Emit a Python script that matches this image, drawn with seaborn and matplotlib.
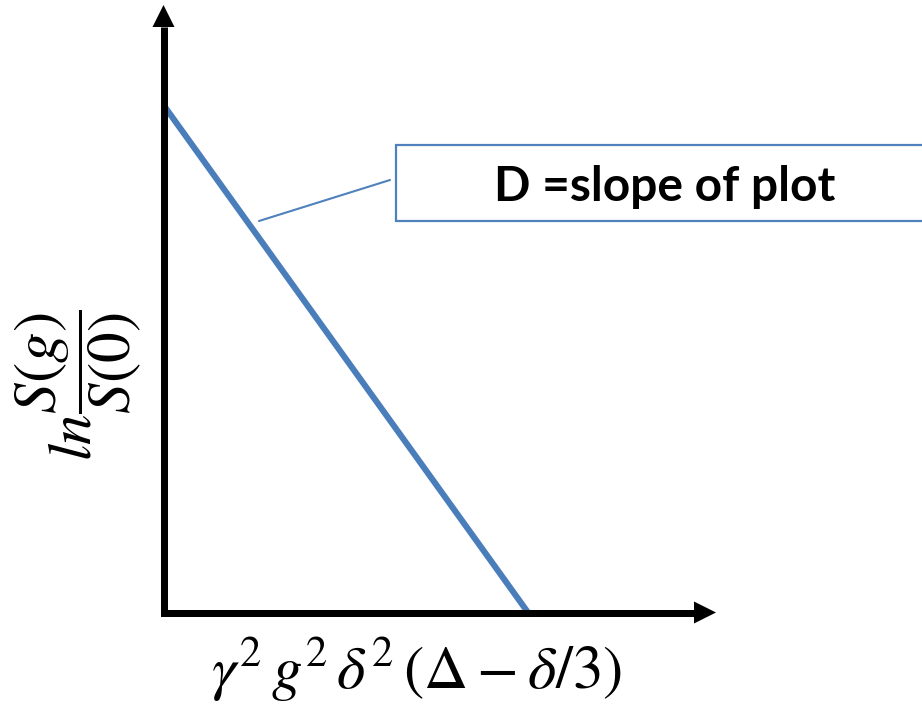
import matplotlib
matplotlib.use("Agg")
import matplotlib.pyplot as plt
import seaborn as sns
import pandas as pd
from matplotlib.patches import Rectangle, Polygon
from matplotlib.lines import Line2D

# Diffusion-weighting factor and log signal attenuation (arbitrary units)
b_factor = [0.0, 1.0]
log_attenuation = [1.0, 0.0]

callout_text = "D =slope of plot"
x_label = r"$\gamma^2\, g^2\, \delta^2\,(\Delta - \delta/3)$"
y_label = r"$ln\dfrac{S(g)}{S(0)}$"

W, H, DPI = 922, 704, 100
sns.set_theme(style="white")
plt.rcParams["mathtext.fontset"] = "stix"
plt.rcParams["font.family"] = ["Lato", "DejaVu Sans"]

fig = plt.figure(figsize=(W / DPI, H / DPI), dpi=DPI)
fig.patch.set_facecolor("white")

# axes origin and arrow tips in pixels
ox, oy = 163.5, 612.5
x_tip, y_tip = 716.0, 5.0
ax_w, ax_h = x_tip - ox, oy - y_tip
ax = fig.add_axes([ox / W, (H - oy) / H, ax_w / W, ax_h / H])
ax.set_xlim(0, ax_w / 364.5)
ax.set_ylim(0, ax_h / 507.5)
ax.axis("off")

df = pd.DataFrame({"b": b_factor, "ln_ratio": log_attenuation})
sns.lineplot(data=df, x="b", y="ln_ratio", ax=ax, color="#4A7EBB",
             linewidth=4.4, solid_capstyle="butt", zorder=2)
for ln in ax.lines:
    ln.set_clip_on(False)

# L-shaped axes with arrow heads
head_len, head_half = 22.0, 11.0
lw_axis = 7 * 72 / DPI
ax.plot([0, 0, 1 - head_len / ax_w], [1 - head_len / ax_h, 0, 0],
        transform=ax.transAxes, color="black", lw=lw_axis,
        solid_joinstyle="miter", solid_capstyle="butt", clip_on=False, zorder=3)
ax.add_patch(Polygon([(-head_half / ax_w, 1 - head_len / ax_h),
                      (head_half / ax_w, 1 - head_len / ax_h), (0, 1)],
                     closed=True, transform=ax.transAxes, fc="black", lw=0,
                     clip_on=False, zorder=3))
ax.add_patch(Polygon([(1 - head_len / ax_w, -head_half / ax_h),
                      (1 - head_len / ax_w, head_half / ax_h), (1, 0)],
                     closed=True, transform=ax.transAxes, fc="black", lw=0,
                     clip_on=False, zorder=3))

# callout box with leader line
fig.add_artist(Rectangle((396 / W, (H - 221) / H), (940 - 396) / W, 76 / H,
                         transform=fig.transFigure, fc="white", ec="#4F81BD",
                         lw=1.6, zorder=4))
fig.add_artist(Line2D([259 / W, 390 / W], [(H - 221) / H, (H - 180) / H],
                      transform=fig.transFigure, color="#4F81BD", lw=1.5, zorder=4))
fig.text(665 / W, (H - 187) / H, callout_text, ha="center", va="center",
         fontsize=34.5, fontweight="bold", color="black", zorder=5)

# axis titles
fig.text(417 / W, (H - 670) / H, x_label, ha="center", va="center",
         fontsize=44, color="black")
fig.text(78 / W, (H - 385) / H, y_label, ha="center", va="center",
         rotation=90, fontsize=44, color="black")

fig.savefig("out.png", dpi=DPI, facecolor="white")
